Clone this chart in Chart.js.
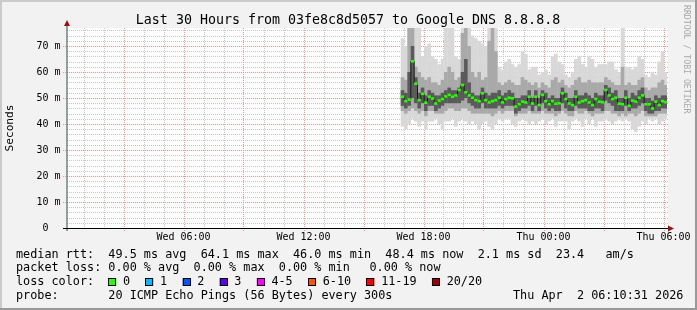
<!DOCTYPE html>
<html>
<head>
<meta charset="utf-8">
<title>Last 30 Hours from 03fe8c8d5057 to Google DNS 8.8.8.8</title>
<script src="https://cdn.jsdelivr.net/npm/chart.js@4.4.1/dist/chart.umd.min.js"></script>
<style>
    html, body { margin: 0; padding: 0; background: #f2f2f2; }
    canvas { display: block; }
</style>
</head>
<body>
<canvas id="smokeChart" width="697" height="310"></canvas>
<script>
// time axis in hours since Wed 00:00
const startHour = 10.5 / 60;        // Wed 00:10:31
const endHour = 30 + 10.5 / 60;     // Thu 06:10:31
const firstSlot = 16 + 57 / 60;     // first sample with data
const slotHours = 10 / 60;

const xTicks = [6, 12, 18, 24, 30];
const xLabels = ['Wed 06:00', 'Wed 12:00', 'Wed 18:00', 'Thu 00:00', 'Thu 06:00'];
const yTicks = [0, 10, 20, 30, 40, 50, 60, 70];
const yLabels = ['0  ', '10 m', '20 m', '30 m', '40 m', '50 m', '60 m', '70 m'];

// median rtt (ms)
const median = [
    50.5, 48.8, 49.4, 64.1, 55.5, 49.2, 51.6, 48.2, 50.5, 49.8,
    47.9, 49.0, 49.6, 50.6, 51.2, 50.5, 51.0, 53.1, 55.0, 52.2,
    51.0, 50.1, 49.2, 48.8, 51.8, 49.2, 48.3, 48.8, 49.2, 50.1,
    48.3, 49.6, 50.1, 49.9, 46.7, 47.6, 48.6, 48.3, 50.5, 47.9,
    50.5, 47.3, 51.2, 48.8, 47.6, 48.8, 47.8, 48.0, 51.8, 49.6,
    47.9, 47.3, 50.5, 48.3, 48.8, 49.2, 48.3, 47.3, 49.6, 48.6,
    48.4, 53.1, 51.0, 49.6, 50.1, 47.8, 47.6, 50.1, 47.0, 49.0,
    48.6, 50.1, 51.0, 47.6, 47.6, 46.0, 48.6, 47.3, 48.8, 48.4
];

// smoke: fastest / slowest ping of each round
const smokeMin = [
    39, 38, 40, 42, 41, 39, 41, 38, 41, 41,
    42, 40, 38, 41, 41, 42, 39, 41, 42, 41,
    40, 41, 40, 38, 40, 41, 39, 38, 40, 42,
    41, 42, 42, 40, 39, 41, 42, 41, 40, 41,
    40, 41, 42, 40, 41, 42, 39, 41, 41, 41,
    38, 41, 42, 41, 39, 42, 40, 42, 39, 41,
    41, 42, 41, 40, 41, 42, 41, 42, 41, 38,
    37, 39, 41, 40, 42, 41, 42, 40, 41, 42
];
const smokeMax = [
    73, 70, 95, 110, 90, 82, 66, 70, 71, 66,
    65, 63, 65, 86, 90, 84, 66, 65, 88, 95,
    92, 74, 73, 72, 71, 70, 85, 88, 82, 62,
    61, 64, 65, 63, 62, 63, 68, 67, 61, 62,
    62, 59, 60, 61, 59, 66, 67, 64, 63, 59,
    58, 60, 65, 66, 63, 62, 66, 65, 62, 63,
    63, 63, 64, 64, 61, 60, 85, 62, 62, 61,
    62, 66, 65, 59, 58, 60, 59, 64, 68, 60
];
// middle part of the pings
const smokeMidLo = [
    45, 44, 45, 46, 45, 44, 45, 43, 45, 45,
    44, 44, 44, 45, 46, 46, 45, 45, 46, 46,
    45, 44, 44, 44, 44, 44, 44, 43, 44, 45,
    44, 45, 45, 45, 43, 44, 44, 44, 45, 44,
    44, 44, 45, 44, 44, 44, 43, 44, 45, 44,
    43, 43, 45, 44, 44, 45, 44, 43, 44, 44,
    44, 45, 45, 44, 44, 43, 44, 43, 44, 44,
    43, 44, 45, 43, 43, 43, 43, 44, 44, 44
];
const smokeMidHi = [
    58, 57, 80, 90, 62, 60, 58, 57, 58, 56,
    56, 55, 57, 60, 62, 60, 57, 58, 75, 85,
    70, 60, 58, 60, 57, 58, 72, 80, 68, 56,
    55, 56, 57, 56, 55, 55, 58, 57, 56, 55,
    56, 54, 56, 55, 54, 57, 58, 56, 57, 55,
    54, 55, 57, 58, 56, 56, 57, 56, 56, 56,
    56, 58, 57, 56, 55, 55, 62, 55, 56, 55,
    55, 57, 58, 54, 53, 54, 54, 56, 57, 55
];
// pings closest to the median
const smokeCoreLo = [
    47, 46, 47, 50, 48, 46, 48, 45, 47, 47,
    45, 46, 47, 48, 48, 48, 48, 48, 49, 50,
    48, 47, 46, 46, 48, 46, 46, 46, 46, 47,
    46, 47, 47, 47, 44, 45, 46, 46, 47, 45,
    47, 45, 48, 46, 45, 46, 45, 45, 48, 46,
    45, 45, 47, 46, 46, 46, 45, 45, 46, 46,
    45, 49, 48, 47, 45, 45, 45, 47, 45, 46,
    46, 47, 48, 45, 44, 44, 45, 45, 46, 46
];
const smokeCoreHi = [
    53, 52, 60, 70, 58, 52, 54, 51, 53, 52,
    51, 51, 52, 53, 54, 53, 53, 54, 60, 65,
    56, 52, 51, 51, 54, 52, 51, 52, 52, 53,
    51, 52, 53, 52, 50, 50, 51, 51, 53, 50,
    53, 50, 53, 52, 50, 51, 50, 50, 54, 52,
    50, 50, 53, 51, 51, 52, 51, 50, 52, 51,
    51, 55, 54, 52, 53, 50, 50, 53, 50, 52,
    51, 53, 54, 50, 50, 49, 51, 50, 51, 51
];

const rttLegend = 'median rtt:  49.5 ms avg  64.1 ms max  46.0 ms min  48.4 ms now  2.1 ms sd  23.4   am/s';
const lossLegend = 'packet loss: 0.00 % avg  0.00 % max  0.00 % min';
const lossNow = '0.00 % now';
const lossLabels = ['0', '1', '2', '3', '4-5', '6-10', '11-19', '20/20'];
const lossColors = ['#26ff00', '#00b8ff', '#0059ff', '#5e00ff', '#ff00ff', '#ff5500', '#ff0000', '#a10000'];
const probeLegend = 'probe:       20 ICMP Echo Pings (56 Bytes) every 300s';
const stamp = 'Thu Apr  2 06:10:31 2026';

const slots = median.map((_, i) => firstSlot + i * slotHours);
const band = (lo, hi) => slots.map((x, i) => ({ x: x, y: [lo[i], hi[i]] }));

const mono = '"DejaVu Sans Mono", "Liberation Mono", monospace';

const rrdLook = {
    id: 'rrdLook',
    beforeDraw(chart) {
        const { ctx, chartArea: a, scales: { x, y } } = chart;
        const W = chart.width, H = chart.height;
        ctx.save();
        ctx.fillStyle = '#f2f2f2';
        ctx.fillRect(0, 0, W, H);
        ctx.fillStyle = '#cbcbcb';
        ctx.fillRect(0, 0, W, 2);
        ctx.fillRect(0, 0, 2, H);
        ctx.fillStyle = '#999999';
        ctx.fillRect(0, H - 2, W, 2);
        ctx.fillRect(W - 2, 0, 2, H);
        ctx.fillStyle = '#ffffff';
        ctx.fillRect(a.left, a.top, a.right - a.left + 1, a.bottom - a.top);

        ctx.lineWidth = 1;
        ctx.setLineDash([1, 1]);
        // minor grid
        ctx.strokeStyle = '#c6c6c6';
        ctx.beginPath();
        for (let h = 1; h <= 30; h++) {
            if (h % 3 === 0) continue;
            const px = Math.round(x.getPixelForValue(h)) + 0.5;
            ctx.moveTo(px, a.top);
            ctx.lineTo(px, a.bottom + 2);
        }
        for (let v = 2; v < 77; v += 2) {
            if (v % 10 === 0) continue;
            const py = Math.round(y.getPixelForValue(v)) + 0.5;
            ctx.moveTo(a.left, py);
            ctx.lineTo(a.right + 1, py);
        }
        ctx.stroke();
        // major grid
        ctx.strokeStyle = '#ff9090';
        ctx.beginPath();
        for (let h = 3; h <= 30; h += 3) {
            const px = Math.round(x.getPixelForValue(h)) + 0.5;
            ctx.moveTo(px, a.top);
            ctx.lineTo(px, a.bottom + 3);
        }
        for (let v = 10; v < 77; v += 10) {
            const py = Math.round(y.getPixelForValue(v)) + 0.5;
            ctx.moveTo(a.left - 4, py);
            ctx.lineTo(a.right + 1, py);
        }
        ctx.stroke();
        ctx.restore();
    },
    afterDatasetsDraw(chart) {
        const { ctx, chartArea: a } = chart;
        ctx.save();
        // axes
        ctx.strokeStyle = '#2c4d43';
        ctx.lineWidth = 1;
        ctx.beginPath();
        ctx.moveTo(a.left, a.bottom + 3);
        ctx.lineTo(a.left, a.top - 5);
        ctx.stroke();
        ctx.strokeStyle = '#000000';
        ctx.beginPath();
        ctx.moveTo(a.left - 4, a.bottom + 0.5);
        ctx.lineTo(a.right + 2, a.bottom + 0.5);
        ctx.stroke();
        // arrows
        ctx.fillStyle = '#a01010';
        ctx.beginPath();
        ctx.moveTo(a.left - 3, a.top - 2);
        ctx.lineTo(a.left + 3, a.top - 2);
        ctx.lineTo(a.left, a.top - 8);
        ctx.closePath();
        ctx.fill();
        ctx.beginPath();
        ctx.moveTo(a.right + 1, a.bottom - 2.5);
        ctx.lineTo(a.right + 1, a.bottom + 3.5);
        ctx.lineTo(a.right + 7, a.bottom + 0.5);
        ctx.closePath();
        ctx.fill();
        ctx.restore();
    },
    afterDraw(chart) {
        const { ctx, chartArea: a, scales: { x, y } } = chart;
        ctx.save();
        ctx.fillStyle = '#000000';

        ctx.font = '13.3px ' + mono;
        ctx.textAlign = 'center';
        ctx.textBaseline = 'alphabetic';
        ctx.fillText('Last 30 Hours from 03fe8c8d5057 to Google DNS 8.8.8.8', 348, 24);

        ctx.font = '10px ' + mono;
        ctx.textAlign = 'right';
        ctx.textBaseline = 'middle';
        yTicks.forEach((v, i) => ctx.fillText(yLabels[i], 60.5, y.getPixelForValue(v) + 0.5));

        ctx.textAlign = 'center';
        xTicks.forEach((h, i) => ctx.fillText(xLabels[i], x.getPixelForValue(h), 237.5));

        // vertical titles
        ctx.save();
        ctx.font = '11.2px ' + mono;
        ctx.translate(10.5, (a.top + a.bottom) / 2);
        ctx.rotate(-Math.PI / 2);
        ctx.fillText('Seconds', 0, 0);
        ctx.restore();

        ctx.save();
        ctx.font = '8.2px ' + mono;
        ctx.fillStyle = '#a8a8a8';
        ctx.textAlign = 'left';
        ctx.translate(686, 5);
        ctx.rotate(Math.PI / 2);
        ctx.fillText('RRDTOOL / TOBI OETIKER', 0, 0);
        ctx.restore();

        // legend rows
        ctx.font = '11.8px ' + mono;
        ctx.textAlign = 'left';
        ctx.textBaseline = 'alphabetic';
        const rowY = [257.5, 271.4, 285.3, 299.1];
        ctx.fillText(rttLegend, 16, rowY[0]);
        ctx.fillText(lossLegend, 16, rowY[1]);
        ctx.fillText(lossNow, 369.5, rowY[1]);
        ctx.fillText('loss color:', 16, rowY[2]);
        let bx = 108.3;
        lossLabels.forEach((lab, i) => {
            ctx.fillStyle = lossColors[i];
            ctx.fillRect(bx, 278, 8, 8);
            ctx.strokeStyle = '#000000';
            ctx.lineWidth = 1;
            ctx.strokeRect(Math.round(bx) + 0.5, 278.5, 7, 7);
            ctx.fillStyle = '#000000';
            ctx.fillText(lab, bx + 14.7, rowY[2]);
            bx = bx + 14.7 + ctx.measureText(lab).width + 15.3;
        });
        ctx.fillText(probeLegend, 16, rowY[3]);
        ctx.fillText(stamp, 513, rowY[3]);
        ctx.restore();
    }
};

const smokeBar = {
    type: 'bar',
    grouped: false,
    barPercentage: 1.08,
    categoryPercentage: 1,
    borderWidth: 0
};

new Chart(document.getElementById('smokeChart'), {
    type: 'bar',
    data: {
        datasets: [
            {
                type: 'line',
                label: 'median rtt',
                data: slots.map((x, i) => ({ x: x, y: median[i] })),
                stepped: 'middle',
                borderColor: '#1a1a1a',
                borderWidth: 1,
                pointStyle: 'line',
                pointRadius: 1.7,
                pointBorderWidth: 2.6,
                pointBorderColor: lossColors[0],
                pointBackgroundColor: lossColors[0],
                order: 0
            },
            Object.assign({ label: 'core', data: band(smokeCoreLo, smokeCoreHi), backgroundColor: '#5a5a5a', order: 1 }, smokeBar),
            Object.assign({ label: 'mid', data: band(smokeMidLo, smokeMidHi), backgroundColor: '#a9a9a9', order: 2 }, smokeBar),
            Object.assign({ label: 'all', data: band(smokeMin, smokeMax), backgroundColor: '#d8d8d8', order: 3 }, smokeBar)
        ]
    },
    options: {
        responsive: false,
        devicePixelRatio: 1,
        animation: false,
        events: [],
        layout: { padding: { left: 67, right: 30, top: 28, bottom: 82 } },
        plugins: { legend: { display: false }, tooltip: { enabled: false } },
        scales: {
            x: { type: 'linear', offset: false, min: startHour, max: endHour, display: false },
            y: { type: 'linear', min: 0, max: 200 / 2.6, display: false }
        }
    },
    plugins: [rrdLook]
});
</script>
</body>
</html>
